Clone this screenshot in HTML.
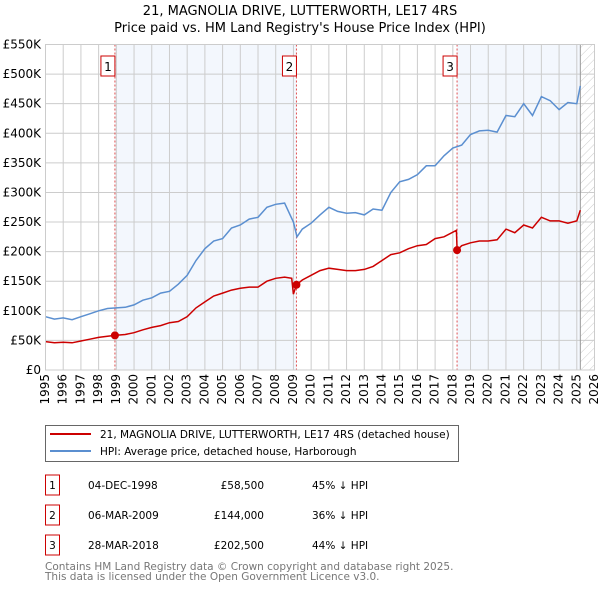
<!DOCTYPE html>
<html><head><meta charset="utf-8"><style>
body{margin:0;background:#fff;font-family:"DejaVu Sans","Liberation Sans",sans-serif;}
svg text{font-family:"DejaVu Sans","Liberation Sans",sans-serif;}
</style></head><body>
<svg id="c" width="600" height="590" xmlns="http://www.w3.org/2000/svg">
<defs><pattern id="hatch" width="6" height="6" patternUnits="userSpaceOnUse" patternTransform="rotate(45)"><line x1="0" y1="0" x2="0" y2="6" stroke="#ccc" stroke-width="1"/></pattern></defs>
<text x="300" y="15" text-anchor="middle" font-size="13" fill="#000">21, MAGNOLIA DRIVE, LUTTERWORTH, LE17 4RS</text>
<text x="300" y="32" text-anchor="middle" font-size="13" fill="#000">Price paid vs. HM Land Registry's House Price Index (HPI)</text>
<g id="plot"></g>
<g>
<rect x="45.5" y="425.5" width="413" height="36" fill="#fff" stroke="#666"/>
<line x1="50" y1="434" x2="91" y2="434" stroke="#cc0000" stroke-width="2"/>
<text x="100" y="438" font-size="10.5">21, MAGNOLIA DRIVE, LUTTERWORTH, LE17 4RS (detached house)</text>
<line x1="50" y1="451" x2="91" y2="451" stroke="#5b8fd0" stroke-width="2"/>
<text x="100" y="455" font-size="10.5">HPI: Average price, detached house, Harborough</text>
</g>
<g id="table" font-size="10.5"></g>
<text x="45" y="570" font-size="10.5" fill="#777">Contains HM Land Registry data © Crown copyright and database right 2025.</text>
<text x="45" y="580" font-size="10.5" fill="#777">This data is licensed under the Open Government Licence v3.0.</text>
</svg>
<script>
const hpiYears=[1995,1995.5,1996,1996.5,1997,1997.5,1998,1998.5,1999,1999.5,2000,2000.5,2001,2001.5,2002,2002.5,2003,2003.5,2004,2004.5,2005,2005.5,2006,2006.5,2007,2007.5,2008,2008.5,2009,2009.2,2009.5,2010,2010.5,2011,2011.5,2012,2012.5,2013,2013.5,2014,2014.5,2015,2015.5,2016,2016.5,2017,2017.5,2018,2018.5,2019,2019.5,2020,2020.5,2021,2021.5,2022,2022.5,2023,2023.5,2024,2024.5,2025,2025.2];
const hpiValues=[90,86,88,85,90,95,100,104,105,106,110,118,122,130,133,145,160,185,205,218,222,240,245,255,258,275,280,282,250,225,238,248,262,275,268,265,266,262,272,270,300,318,322,330,345,345,362,375,380,398,404,405,402,430,428,450,430,462,455,440,452,450,480];
const ppYears=[1995,1995.5,1996,1996.5,1997,1997.5,1998,1998.5,1998.92,1999.5,2000,2000.5,2001,2001.5,2002,2002.5,2003,2003.5,2004,2004.5,2005,2005.5,2006,2006.5,2007,2007.5,2008,2008.5,2008.9,2009.0,2009.17,2009.5,2010,2010.5,2011,2011.5,2012,2012.5,2013,2013.5,2014,2014.5,2015,2015.5,2016,2016.5,2017,2017.5,2018.2,2018.24,2018.5,2019,2019.5,2020,2020.5,2021,2021.5,2022,2022.5,2023,2023.5,2024,2024.5,2025,2025.2];
const ppValues=[48,46,47,46,49,52,55,57,58.5,60,63,68,72,75,80,82,90,105,115,125,130,135,138,140,140,150,155,157,155,128,144,152,160,168,172,170,168,168,170,175,185,195,198,205,210,212,222,225,236,202.5,210,215,218,218,220,238,232,245,240,258,252,252,248,252,270];
const sales=[{n:"1",t:1998.92,v:58.5,d:"04-DEC-1998",p:"£58,500",h:"45% ↓ HPI"},{n:"2",t:2009.17,v:144,d:"06-MAR-2009",p:"£144,000",h:"36% ↓ HPI"},{n:"3",t:2018.24,v:202.5,d:"28-MAR-2018",p:"£202,500",h:"44% ↓ HPI"}];
const yTicks=[0,50,100,150,200,250,300,350,400,450,500,550];
const yLabels=["£0","£50K","£100K","£150K","£200K","£250K","£300K","£350K","£400K","£450K","£500K","£550K"];
const xTicks=[1995,1996,1997,1998,1999,2000,2001,2002,2003,2004,2005,2006,2007,2008,2009,2010,2011,2012,2013,2014,2015,2016,2017,2018,2019,2020,2021,2022,2023,2024,2025,2026];
const X0=45.5,X1=594.5,Y0=370,Y1=44.5;
const xs=t=>X0+(t-1995)/(2026-1995)*(X1-X0);
const ys=v=>Y0-v/550*(Y0-Y1);
const NS="http://www.w3.org/2000/svg";
function mk(tag,attrs,parent,text){const e=document.createElementNS(NS,tag);for(const k in attrs)e.setAttribute(k,attrs[k]);if(text!==undefined)e.textContent=text;parent.appendChild(e);return e;}
const g=document.getElementById('plot');
let r=mk('rect',{x:xs(1998.92),y:Y1,width:xs(2009.17)-xs(1998.92),height:Y0-Y1,fill:'#eef3fc',opacity:0.7},g);


r=mk('rect',{x:xs(2018.24),y:Y1,width:xs(2025.2)-xs(2018.24),height:Y0-Y1,fill:'#eef3fc',opacity:0.7},g);


r=mk('rect',{x:xs(2025.2),y:Y1,width:X1-xs(2025.2),height:Y0-Y1,fill:'url(#hatch)'},g);


yTicks.forEach((v,i)=>{
 const l=mk('line',{x1:X0,x2:X1,y1:ys(v),y2:ys(v),stroke:'#ccc','stroke-width':1},g);
 
 
 const t=mk('text',{x:41,y:ys(v)+4,'text-anchor':'end','font-size':12},g,yLabels[i]);
 
 
});
xTicks.forEach(v=>{
 const l=mk('line',{x1:xs(v),x2:xs(v),y1:Y1,y2:Y0,stroke:'#ccc','stroke-width':1},g);
 
 
 const t=mk('text',{x:xs(v),y:Y0+4,'font-size':12,transform:`rotate(-90 ${xs(v)} ${Y0+4})`,'text-anchor':'end','dominant-baseline':'middle'},g,String(v));
 
 
});
let vl=mk('line',{x1:xs(2025.2),x2:xs(2025.2),y1:Y1,y2:Y0,stroke:'#999','stroke-width':1},g);


sales.forEach(s=>{
 const l=mk('line',{x1:xs(s.t),x2:xs(s.t),y1:Y1,y2:Y0,stroke:'#e05050','stroke-width':1,'stroke-dasharray':'2,2'},g);
 
 
 const b=mk('rect',{x:xs(s.t)-14,y:56,width:14,height:20,fill:'#fff',stroke:'#cc0000'},g);
 
 
 const t=mk('text',{x:xs(s.t)-7,y:71,'text-anchor':'middle','font-size':12},g,s.n);
 
 
});
let p=mk('path',{d:hpiYears.map((t,i)=>(i?'L':'M')+xs(t).toFixed(1)+','+ys(hpiValues[i]).toFixed(1)).join(''),fill:'none',stroke:'#5b8fd0','stroke-width':1.5},g);


p=mk('path',{d:ppYears.map((t,i)=>(i?'L':'M')+xs(t).toFixed(1)+','+ys(ppValues[i]).toFixed(1)).join(''),fill:'none',stroke:'#cc0000','stroke-width':1.5},g);


sales.forEach(s=>{
 const d=mk('circle',{cx:xs(s.t),cy:ys(s.v),r:4,fill:'#cc0000'},g);
 
 
});
let fr=mk('rect',{x:X0,y:Y1,width:X1-X0,height:Y0-Y1,fill:'none',stroke:'#ccc'},g);


const tb=document.getElementById('table');
sales.forEach((s,i)=>{
 const y=485+i*30;
 const b=mk('rect',{x:45.5,y:y-10,width:14,height:20,fill:'#fff',stroke:'#cc0000'},tb);
 
 
 let t=mk('text',{x:52.5,y:y+4,'text-anchor':'middle'},tb,s.n);
 
 
 t=mk('text',{x:88,y:y+4},tb,s.d);
 
 
 t=mk('text',{x:264,y:y+4,'text-anchor':'end'},tb,s.p);
 
 
 t=mk('text',{x:312,y:y+4},tb,s.h);
 
 
});
</script>
</body></html>
